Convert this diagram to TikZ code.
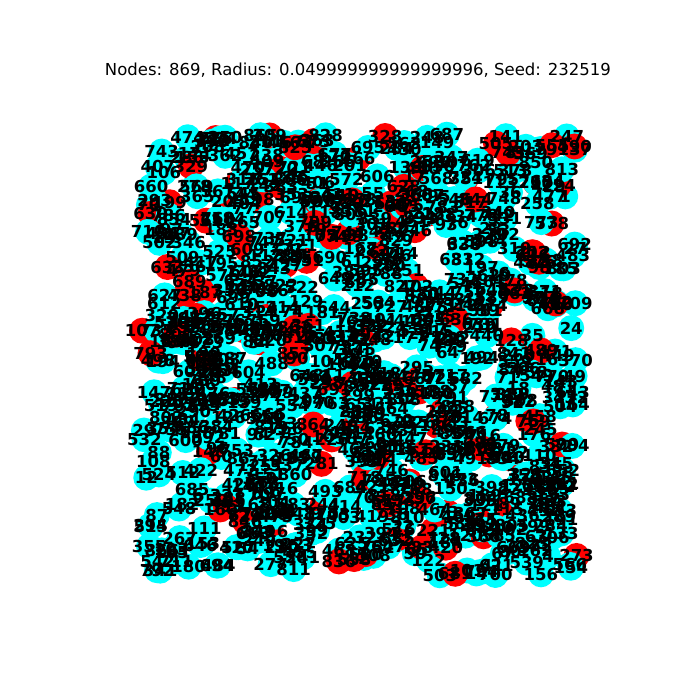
\documentclass[tikz,border=0pt]{standalone}
\usepackage{fontspec}
\setmainfont{DejaVu Sans}
\definecolor{cy}{RGB}{0,255,255}
\definecolor{rd}{RGB}{255,0,0}
\tikzset{
  vert/.style={circle,inner sep=0pt,minimum size=26pt,draw=none},
  lab/.style={inner sep=0pt,font=\fontsize{16.5}{16.5}\selectfont\bfseries,text=black},
  ttl/.style={inner sep=0pt,font=\fontsize{16.5}{18}\selectfont}
}
\begin{document}
\begin{tikzpicture}[x=1pt,y=-1pt]
\useasboundingbox (0,0) rectangle (700,700);
\node[ttl] (title) at (358,70) {Nodes: 869, Radius: 0.049999999999999996, Seed: 232519};
\pgfmathsetseed{232519}
\foreach \i in {0,...,868}{
  \pgfmathsetmacro{\px}{142+436*rnd}
  \pgfmathsetmacro{\py}{134+442*rnd}
  \pgfmathsetmacro{\pc}{rnd}
  \ifdim\pc pt<0.16pt
    \node[vert,fill=rd] (n\i) at (\px,\py) {};
  \else
    \node[vert,fill=cy] (n\i) at (\px,\py) {};
  \fi
}
\foreach \i in {0,...,868}{
  \node[lab] (l\i) at (n\i.center) {\i};
}
\end{tikzpicture}
\end{document}
